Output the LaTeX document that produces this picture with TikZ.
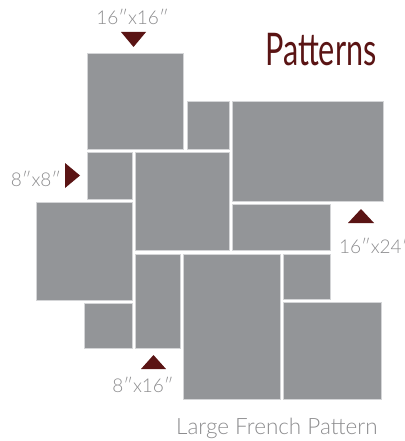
\documentclass[tikz,border=0pt]{standalone}
\usepackage{fontspec}
\setmainfont{Lato}
\newfontfamily\lpthin{Lato}[UprightFont=* Light]
\newfontfamily\lptitle{Lato}[FakeStretch=0.68]
\usetikzlibrary{positioning}
\definecolor{lptile}  {HTML}{939598}
\definecolor{lpedge}  {HTML}{D4D5D7}
\definecolor{lpmaroon}{HTML}{5A1414}
\definecolor{lptext}  {HTML}{8C8C8E}
\tikzset{
  lptilebox/.style={fill=lptile, draw=lpedge, line width=0.6pt},
  lpmark/.style={fill=lpmaroon, draw=none},
  lpsize/.style={font=\lpthin\fontsize{19}{19}\selectfont, text=lptext, inner sep=0pt},
  lpcaption/.style={font=\lpthin\fontsize{22.5}{22.5}\selectfont, text=lptext, inner sep=0pt},
  lptitlefont/.style={font=\lptitle\fontsize{45}{45}\selectfont, text=lpmaroon, inner sep=0pt},
}
\begin{document}
\begin{tikzpicture}[x=1pt,y=-1pt]
  \useasboundingbox (0,0) rectangle (404,441);

  % tiles of the pattern
  \foreach \xa/\ya/\xb/\yb in {87/53/183/149, 187/101/229/149, 232/101/383/201,
                               87/152/132/199, 135/152/229/250, 36/202/132/300,
                               232/204/330/250, 135/254/180/348, 183/254/280/399,
                               283/254/330/299, 84/303/132/348, 283/302/381/399}
    \draw[lptilebox] (\xa,\ya) rectangle (\xb,\yb);

  % pointers
  \fill[lpmark] (121,32) -- (146,32) -- (133.5,47) -- cycle;
  \fill[lpmark] (65,163) -- (65,188) -- (80,175.5) -- cycle;
  \fill[lpmark] (348,223) -- (374,223) -- (361,209) -- cycle;
  \fill[lpmark] (141,369) -- (166,369) -- (153.5,355) -- cycle;

  % labels
  \node[lptitlefont, anchor=base west] (title) at (265,66) {Patterns};
  \node[lpsize, anchor=base] (sq16) at (132.5,25) {16″x16″};
  \node[lpsize, anchor=base] (sq8) at (36,186) {8″x8″};
  \node[lpsize, anchor=base west] (rect1624) at (339,253) {16″x24″};
  \node[lpsize, anchor=base] (rect816) at (143,392) {8″x16″};
  \node[lpcaption, anchor=base west] (caption) at (176,434) {Large French Pattern};
\end{tikzpicture}
\end{document}
